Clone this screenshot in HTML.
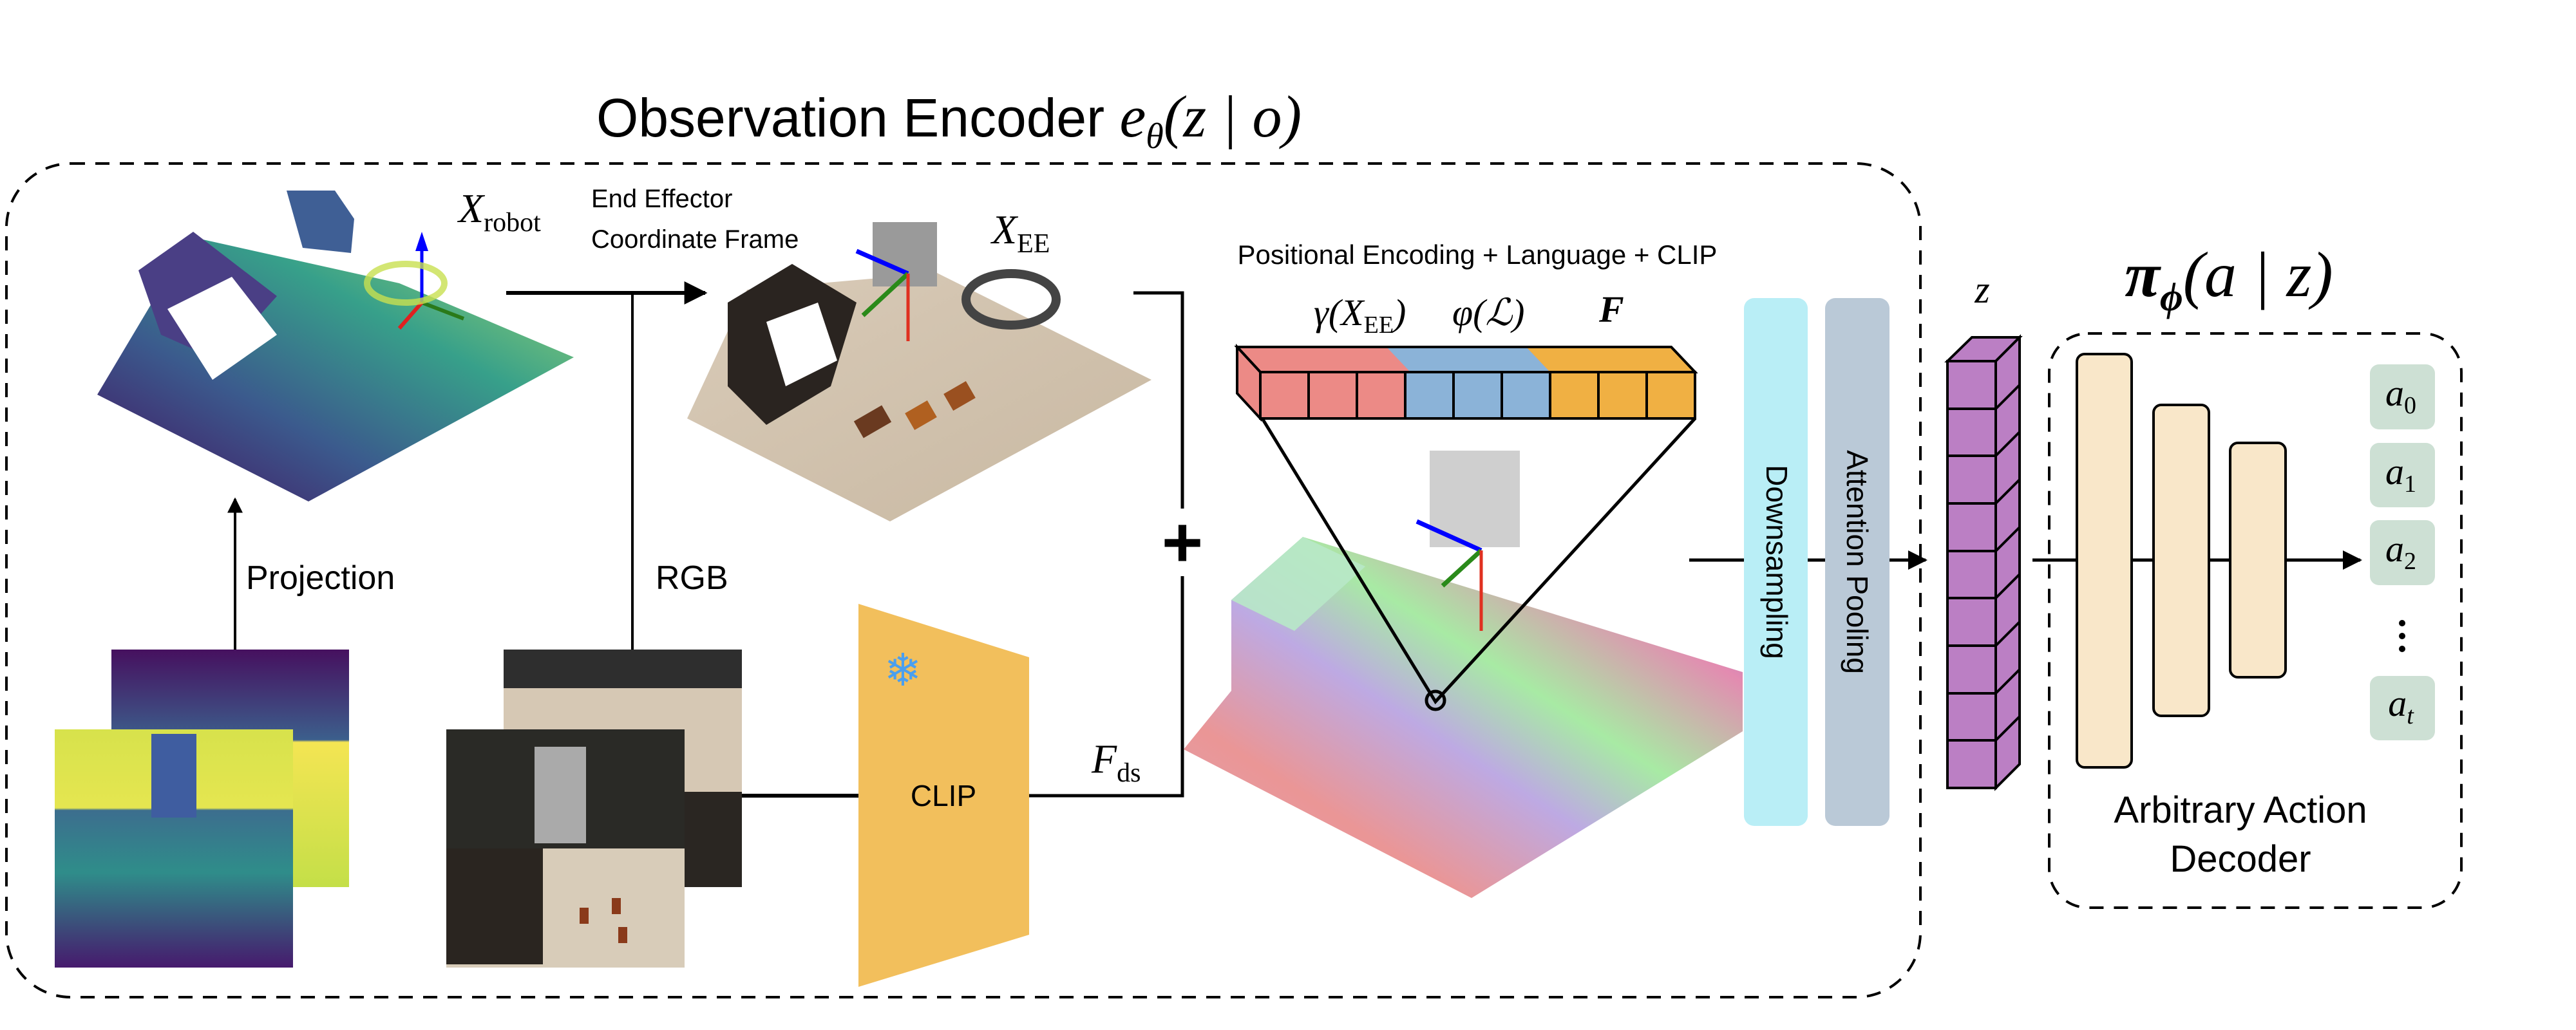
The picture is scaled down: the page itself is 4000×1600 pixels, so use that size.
<!DOCTYPE html>
<html><head><meta charset="utf-8"><style>
html,body{margin:0;padding:0;background:#fff}
svg{display:block}
.sans{font-family:"Liberation Sans",sans-serif}
.serif{font-family:"Liberation Serif",serif;font-style:italic}
</style></head><body>
<svg width="4000" height="1600" viewBox="0 0 4000 1600" xmlns="http://www.w3.org/2000/svg">
<defs>
<linearGradient id="vir" x1="0" y1="1" x2="1" y2="0">
<stop offset="0" stop-color="#440d5c"/><stop offset="0.35" stop-color="#3b5a8d"/><stop offset="0.65" stop-color="#37a08a"/><stop offset="1" stop-color="#a8dc6c"/></linearGradient>
<linearGradient id="depthB" x1="0" y1="0" x2="0" y2="1">
<stop offset="0" stop-color="#46105f"/><stop offset="0.38" stop-color="#3c5f8c"/><stop offset="0.39" stop-color="#f4e553"/><stop offset="1" stop-color="#c4df48"/></linearGradient>
<linearGradient id="depthF" x1="0" y1="0" x2="0" y2="1">
<stop offset="0" stop-color="#d7e24c"/><stop offset="0.33" stop-color="#e5e650"/><stop offset="0.34" stop-color="#3c6e8e"/><stop offset="0.6" stop-color="#2f8d8a"/><stop offset="1" stop-color="#461a6d"/></linearGradient>
<linearGradient id="wood" x1="0" y1="0" x2="1" y2="1">
<stop offset="0" stop-color="#d9cbb8"/><stop offset="1" stop-color="#c8b8a2"/></linearGradient>
<linearGradient id="rainbow" x1="0" y1="1" x2="1" y2="0">
<stop offset="0" stop-color="#d99bb0"/><stop offset="0.25" stop-color="#e88a8a"/><stop offset="0.45" stop-color="#b6a0e0"/><stop offset="0.6" stop-color="#9ee89a"/><stop offset="0.8" stop-color="#e07ea8"/><stop offset="1" stop-color="#5a5ae0"/></linearGradient>
<marker id="ah" viewBox="0 0 10 10" refX="9" refY="5" markerWidth="6" markerHeight="6" orient="auto"><path d="M0,0L10,5L0,10z" fill="#000"/></marker>
</defs>

<!-- Title -->
<text x="926" y="212" class="sans" font-size="84" fill="#000">Observation Encoder <tspan class="serif" font-size="92">e</tspan><tspan class="serif" font-size="56" dy="18">θ</tspan><tspan class="serif" font-size="92" dy="-18">(z | o)</tspan></text>

<!-- outer dashed box -->
<rect x="10" y="254" width="2972" height="1295" rx="100" fill="none" stroke="#000" stroke-width="4" stroke-dasharray="22,16"/>

<!-- left point cloud -->
<polygon points="151,613 297,368 620,440 891,555 479,779" fill="url(#vir)"/>
<polygon points="215,420 300,360 430,460 340,560 250,520" fill="#4a3f85"/>
<polygon points="260,480 360,430 430,520 330,590" fill="#fff"/>
<polygon points="445,296 520,296 550,340 545,393 470,385" fill="#3f5f95"/>
<line x1="655" y1="380" x2="655" y2="470" stroke="#00f" stroke-width="5"/>
<polygon points="645,390 655,360 665,390" fill="#00f"/>
<line x1="655" y1="470" x2="720" y2="495" stroke="#2a7a1a" stroke-width="6"/>
<line x1="655" y1="470" x2="620" y2="510" stroke="#e02020" stroke-width="6"/>
<ellipse cx="630" cy="440" rx="60" ry="30" fill="none" stroke="#c8e050" stroke-width="10" opacity="0.8"/>
<text x="712" y="345" class="serif" font-size="64">X<tspan font-size="42" dy="14" font-style="normal">robot</tspan></text>

<!-- end effector label -->
<text x="918" y="322" class="sans" font-size="40">End Effector</text>
<text x="918" y="385" class="sans" font-size="40">Coordinate Frame</text>

<!-- arrow to middle image -->
<line x1="786" y1="455" x2="1095" y2="455" stroke="#000" stroke-width="6" marker-end="url(#ah)"/>
<line x1="982" y1="455" x2="982" y2="1009" stroke="#000" stroke-width="4"/>

<!-- middle image -->
<polygon points="1067,650 1160,450 1455,424 1788,590 1382,810" fill="url(#wood)"/>
<polygon points="1130,470 1230,410 1330,470 1290,600 1190,660 1130,600" fill="#2a2420"/>
<polygon points="1190,500 1270,470 1300,560 1220,600" fill="#fff"/>
<rect x="1355" y="345" width="100" height="100" fill="#9a9a9a"/>
<ellipse cx="1570" cy="465" rx="70" ry="40" fill="none" stroke="#444" stroke-width="14"/>
<line x1="1410" y1="425" x2="1330" y2="390" stroke="#00f" stroke-width="7"/>
<line x1="1410" y1="425" x2="1340" y2="490" stroke="#2a8a1a" stroke-width="7"/>
<line x1="1410" y1="425" x2="1410" y2="530" stroke="#e03020" stroke-width="5"/>
<rect x="1330" y="640" width="50" height="30" fill="#6a3a20" transform="rotate(-30 1355 655)"/>
<rect x="1410" y="630" width="40" height="30" fill="#b06020" transform="rotate(-30 1430 645)"/>
<rect x="1470" y="600" width="40" height="30" fill="#9a5020" transform="rotate(-30 1490 615)"/>
<text x="1540" y="378" class="serif" font-size="64">X<tspan font-size="42" dy="14" font-style="normal">EE</tspan></text>

<!-- bracket to plus -->
<polyline points="1760,455 1836,455 1836,790" fill="none" stroke="#000" stroke-width="5"/>
<polyline points="1836,895 1836,1236 1598,1236" fill="none" stroke="#000" stroke-width="5"/>
<text x="1836" y="880" class="sans" font-size="110" font-weight="bold" text-anchor="middle">+</text>
<text x="1695" y="1200" class="serif" font-size="64">F<tspan font-size="42" dy="14" font-style="normal">ds</tspan></text>

<!-- Projection / RGB -->
<line x1="365" y1="1009" x2="365" y2="775" stroke="#000" stroke-width="4" marker-end="url(#ah)"/>
<text x="382" y="915" class="sans" font-size="52">Projection</text>
<text x="1018" y="915" class="sans" font-size="52">RGB</text>

<!-- depth images -->
<rect x="173" y="1009" width="369" height="369" fill="url(#depthB)"/>
<rect x="85" y="1133" width="370" height="370" fill="url(#depthF)"/>
<rect x="235" y="1140" width="70" height="130" fill="#3f5da0"/>

<!-- rgb images -->
<rect x="782" y="1009" width="370" height="369" fill="#d6c8b4"/>
<rect x="782" y="1009" width="370" height="60" fill="#2e2e2e"/>
<rect x="1063" y="1230" width="89" height="148" fill="#2a2622"/>
<rect x="693" y="1133" width="370" height="370" fill="#d8ccb9"/>
<rect x="693" y="1133" width="370" height="185" fill="#2a2a26"/>
<rect x="693" y="1318" width="150" height="180" fill="#2a2520"/>
<rect x="830" y="1160" width="80" height="150" fill="#aaa"/>
<rect x="900" y="1410" width="14" height="25" fill="#8a3a1a"/>
<rect x="950" y="1395" width="14" height="25" fill="#8a3a1a"/>
<rect x="960" y="1440" width="14" height="25" fill="#8a3a1a"/>

<!-- CLIP -->
<line x1="1152" y1="1236" x2="1333" y2="1236" stroke="#000" stroke-width="6"/>
<polygon points="1333,938 1598,1021 1598,1452 1333,1533" fill="#f2bf5c"/>
<text x="1465" y="1252" class="sans" font-size="46" text-anchor="middle">CLIP</text>
<text x="1402" y="1065" class="sans" font-size="70" fill="#4a9ff0" text-anchor="middle">❄</text>

<!-- Positional encoding -->
<text x="2294" y="410" class="sans" font-size="42" text-anchor="middle">Positional Encoding + Language + CLIP</text>
<text x="2040" y="505" class="serif" font-size="58">γ(X<tspan font-size="38" dy="12" font-style="normal">EE</tspan><tspan dy="-12">)</tspan></text>
<text x="2255" y="505" class="serif" font-size="58">φ(ℒ)</text>
<text x="2483" y="500" class="serif" font-size="58" font-weight="bold">F</text>
<g stroke="#000" stroke-width="4">
<polygon points="1921,539 2595,539 2632,578 1957,578" fill="#ec8a86"/>
<polygon points="2153,539 2370,539 2407,578 2190,578" fill="#8bb3d8" stroke="none"/>
<polygon points="2370,539 2595,539 2632,578 2407,578" fill="#f0b043" stroke="none"/>
<polygon points="1921,539 2595,539 2632,578 1957,578" fill="none"/>
<polygon points="1921,539 1957,578 1957,650 1921,611" fill="#ec8a86"/>
<rect x="1957" y="578" width="75" height="72" fill="#ec8a86"/>
<rect x="2032" y="578" width="75" height="72" fill="#ec8a86"/>
<rect x="2107" y="578" width="75" height="72" fill="#ec8a86"/>
<rect x="2182" y="578" width="75" height="72" fill="#8bb3d8"/>
<rect x="2257" y="578" width="75" height="72" fill="#8bb3d8"/>
<rect x="2332" y="578" width="75" height="72" fill="#8bb3d8"/>
<rect x="2407" y="578" width="75" height="72" fill="#f0b043"/>
<rect x="2482" y="578" width="75" height="72" fill="#f0b043"/>
<rect x="2557" y="578" width="75" height="72" fill="#f0b043"/>
</g>

<!-- colored cloud -->
<polygon points="1838,1164 1912,1073 1912,932 2023,834 2342,932 2706,1044 2706,1136 2285,1395" fill="url(#rainbow)" opacity="0.9"/>
<polygon points="1912,932 2023,834 2120,880 2010,980" fill="#b8e8c8" opacity="0.9"/>
<rect x="2220" y="700" width="140" height="150" fill="#cfcfcf"/>
<line x1="2300" y1="855" x2="2200" y2="810" stroke="#00f" stroke-width="7"/>
<line x1="2300" y1="855" x2="2240" y2="910" stroke="#2a8a1a" stroke-width="7"/>
<line x1="2300" y1="855" x2="2300" y2="980" stroke="#e03020" stroke-width="5"/>
<polyline points="1960,650 2229,1090 2632,650" fill="none" stroke="#000" stroke-width="5"/>
<circle cx="2229" cy="1088" r="14" fill="none" stroke="#000" stroke-width="5"/>

<!-- downsampling & attention -->
<line x1="2623" y1="870" x2="2990" y2="870" stroke="#000" stroke-width="5" marker-end="url(#ah)"/>
<rect x="2708" y="463" width="99" height="820" rx="16" fill="#b9eef6"/>
<rect x="2834" y="463" width="100" height="820" rx="16" fill="#bac9d7"/>
<text transform="translate(2743,873) rotate(90)" class="sans" font-size="46" text-anchor="middle">Downsampling</text>
<text transform="translate(2868,873) rotate(90)" class="sans" font-size="46" text-anchor="middle">Attention Pooling</text>

<!-- z column -->
<text x="3078" y="470" class="serif" font-size="60" text-anchor="middle">z</text>
<g stroke="#000" stroke-width="4" fill="#bb7fc4">
<polygon points="3024,561 3062,524 3136,524 3099,561"/>
<polygon points="3099,561 3136,524 3136,1187 3099,1224"/>
<rect x="3024" y="561" width="75" height="663"/>
<line x1="3024" y1="635" x2="3099" y2="635"/><line x1="3024" y1="708" x2="3099" y2="708"/>
<line x1="3024" y1="782" x2="3099" y2="782"/><line x1="3024" y1="856" x2="3099" y2="856"/>
<line x1="3024" y1="929" x2="3099" y2="929"/><line x1="3024" y1="1003" x2="3099" y2="1003"/>
<line x1="3024" y1="1077" x2="3099" y2="1077"/><line x1="3024" y1="1150" x2="3099" y2="1150"/>
<line x1="3099" y1="635" x2="3136" y2="598"/><line x1="3099" y1="708" x2="3136" y2="671"/>
<line x1="3099" y1="782" x2="3136" y2="745"/><line x1="3099" y1="856" x2="3136" y2="819"/>
<line x1="3099" y1="929" x2="3136" y2="892"/><line x1="3099" y1="1003" x2="3136" y2="966"/>
<line x1="3099" y1="1077" x2="3136" y2="1040"/><line x1="3099" y1="1150" x2="3136" y2="1113"/>
</g>

<!-- decoder -->
<text x="3461" y="460" class="serif" font-size="100" text-anchor="middle" font-weight="bold">π<tspan font-size="62" dy="22">ϕ</tspan><tspan dy="-22" font-weight="normal">(a | z)</tspan></text>
<rect x="3182" y="518" width="640" height="892" rx="60" fill="none" stroke="#000" stroke-width="4" stroke-dasharray="22,16"/>
<line x1="3156" y1="870" x2="3665" y2="870" stroke="#000" stroke-width="5" marker-end="url(#ah)"/>
<rect x="3225" y="550" width="85" height="642" rx="12" fill="#f9e7c9" stroke="#000" stroke-width="4"/>
<rect x="3344" y="629" width="86" height="483" rx="12" fill="#f9e7c9" stroke="#000" stroke-width="4"/>
<rect x="3463" y="688" width="86" height="364" rx="12" fill="#f9e7c9" stroke="#000" stroke-width="4"/>
<g fill="#cde0d4">
<rect x="3680" y="566" width="101" height="101" rx="14"/>
<rect x="3680" y="688" width="101" height="100" rx="14"/>
<rect x="3680" y="808" width="101" height="101" rx="14"/>
<rect x="3680" y="1050" width="101" height="100" rx="14"/>
</g>
<g class="serif" font-size="58" text-anchor="middle">
<text x="3728" y="630">a<tspan font-size="38" dy="12" font-style="normal">0</tspan></text>
<text x="3728" y="752">a<tspan font-size="38" dy="12" font-style="normal">1</tspan></text>
<text x="3728" y="872">a<tspan font-size="38" dy="12" font-style="normal">2</tspan></text>
<text x="3728" y="1112">a<tspan font-size="38" dy="12">t</tspan></text>
</g>
<circle cx="3730" cy="968" r="5"/><circle cx="3730" cy="988" r="5"/><circle cx="3730" cy="1008" r="5"/>
<text x="3479" y="1278" class="sans" font-size="58" text-anchor="middle">Arbitrary Action</text>
<text x="3479" y="1354" class="sans" font-size="58" text-anchor="middle">Decoder</text>
</svg>
</body></html>
